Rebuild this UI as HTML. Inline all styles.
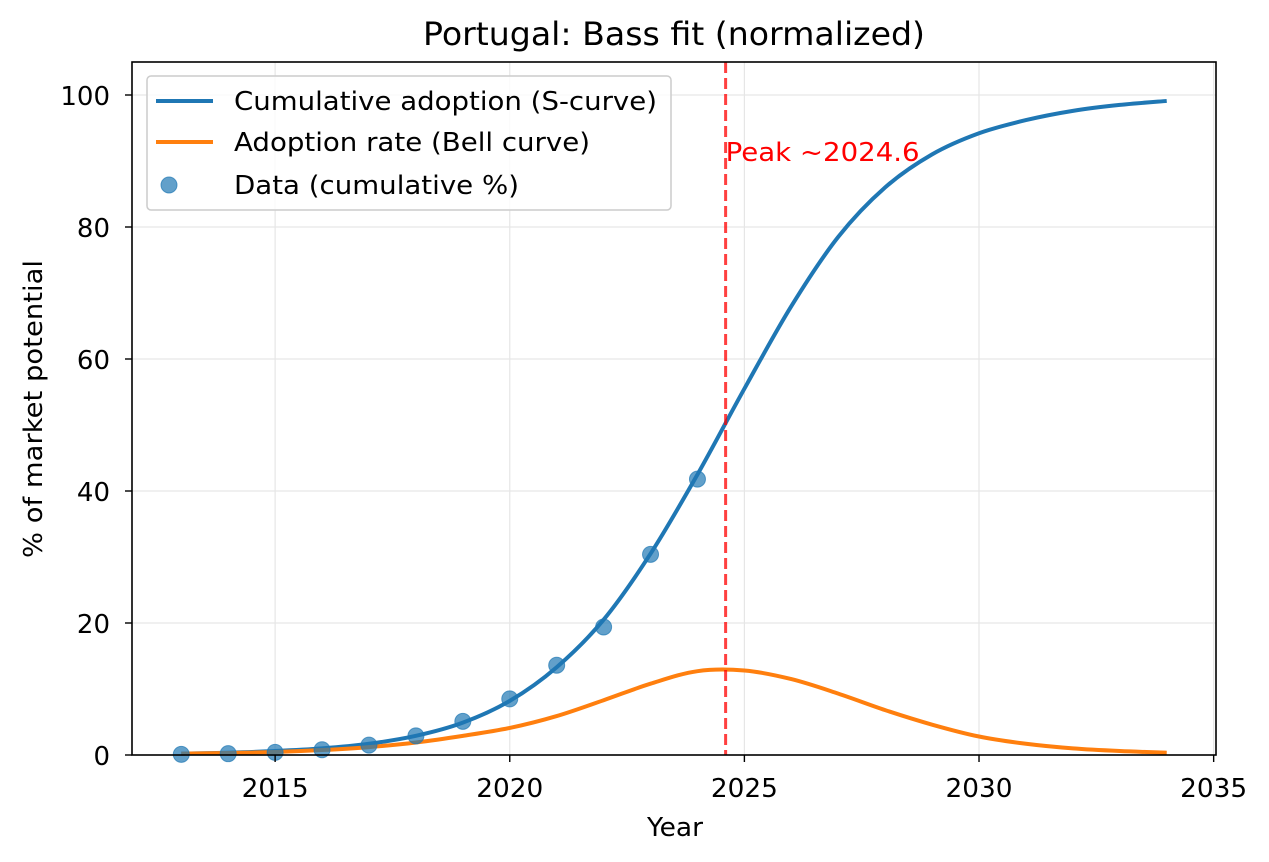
<!DOCTYPE html>
<html><head><meta charset="utf-8"><style>
html,body{margin:0;padding:0;background:#fff;}
svg{display:block;font-family:"DejaVu Sans","Liberation Sans",sans-serif;}
</style></head><body>
<svg id="chart" width="1269" height="862" viewBox="0 0 1269 862">
<rect width="1269" height="862" fill="#fff"/>
<g id="grid"></g>
<g id="series"></g>
<rect x="132" y="62" width="1084" height="693" fill="none" stroke="#000" stroke-width="1.6"/>
<g id="axes"></g>
<text x="674" y="45" text-anchor="middle" font-size="24" textLength="502" lengthAdjust="spacingAndGlyphs" style="font-size:32px">Portugal: Bass fit (normalized)</text>
<text x="675" y="836" text-anchor="middle" style="font-size:26px" textLength="56" lengthAdjust="spacingAndGlyphs">Year</text>
<text transform="translate(42,409) rotate(-90)" text-anchor="middle" style="font-size:26px" textLength="298" lengthAdjust="spacingAndGlyphs">% of market potential</text>
<g>
<rect x="147" y="76" width="524" height="134" rx="4" fill="#fff" fill-opacity="0.8" stroke="#ccc" stroke-width="1.5"/>
<line x1="156" y1="101" x2="213" y2="101" stroke="#1f77b4" stroke-width="4"/>
<text x="234" y="110" style="font-size:26px" textLength="423" lengthAdjust="spacingAndGlyphs">Cumulative adoption (S-curve)</text>
<line x1="156" y1="142" x2="213" y2="142" stroke="#ff7f0e" stroke-width="4"/>
<text x="234" y="151" style="font-size:26px" textLength="356" lengthAdjust="spacingAndGlyphs">Adoption rate (Bell curve)</text>
<circle cx="169" cy="185" r="8" fill="#1f77b4" fill-opacity="0.7" stroke="#1f77b4" stroke-opacity="0.7"/>
<text x="234" y="194" style="font-size:26px" textLength="285" lengthAdjust="spacingAndGlyphs">Data (cumulative %)</text>
</g>
</svg>
<script>
const years=[2013,2014,2015,2016,2017,2018,2019,2020,2021,2022,2023,2024,2025,2026,2027,2028,2029,2030,2031,2032,2033,2034];
const cumulativeFit=[0.2,0.35,0.6,1.0,1.7,2.9,4.9,8.2,13.3,20.5,30.5,42.5,55.5,68,78.5,86,91,94.2,96.2,97.6,98.5,99.1];
const rateFit=[0.2,0.3,0.45,0.75,1.2,1.9,2.9,4.1,5.9,8.3,10.8,12.7,12.8,11.5,9.3,6.8,4.6,2.8,1.7,1.0,0.6,0.35];
const dataYears=[2013,2014,2015,2016,2017,2018,2019,2020,2021,2022,2023,2024];
const dataValues=[0.1,0.2,0.4,0.8,1.5,2.9,5.1,8.5,13.6,19.4,30.4,41.8];
const peakYear=2024.6;
const xTicks=[2015,2020,2025,2030,2035];
const yTicks=[0,20,40,60,80,100];
const NS="http://www.w3.org/2000/svg";
const X0=2011.95,X1=2035.05,Y0=0,Y1=105,L=132,R=1216,T=62,B=755;
const sx=v=>L+(v-X0)/(X1-X0)*(R-L);
const sy=v=>B-(v-Y0)/(Y1-Y0)*(B-T);
function mk(tag,attrs,parent){const e=document.createElementNS(NS,tag);for(const k in attrs)e.setAttribute(k,attrs[k]);parent.appendChild(e);return e;}
const grid=document.getElementById('grid'),axes=document.getElementById('axes'),series=document.getElementById('series');
xTicks.forEach(t=>{
 const g=mk('line',{x1:sx(t),x2:sx(t),y1:T,y2:B,stroke:'#e6e6e6','stroke-width':1.2},grid);
 
 
 const tk=mk('line',{x1:sx(t),x2:sx(t),y1:B,y2:B+7,stroke:'#000','stroke-width':1.4},axes);
 
 
 const tx=mk('text',{x:sx(t),y:B+42,'text-anchor':'middle',style:'font-size:26px',textLength:67,lengthAdjust:'spacingAndGlyphs'},axes);
 tx.textContent=t;
 
 
});
yTicks.forEach(t=>{
 const g=mk('line',{x1:L,x2:R,y1:sy(t),y2:sy(t),stroke:'#e6e6e6','stroke-width':1.2},grid);
 
 
 const tk=mk('line',{x1:L-7,x2:L,y1:sy(t),y2:sy(t),stroke:'#000','stroke-width':1.4},axes);
 
 
 const tx=mk('text',{x:L-22,y:sy(t)+10,'text-anchor':'end',style:'font-size:26px'},axes);
 tx.textContent=t;
 
 
});
function smoothPath(xs,ys){
 const p=xs.map((x,i)=>[sx(x),sy(ys[i])]);
 let d='M'+p[0][0]+','+p[0][1];
 for(let i=0;i<p.length-1;i++){
  const p0=p[Math.max(0,i-1)],p1=p[i],p2=p[i+1],p3=p[Math.min(p.length-1,i+2)];
  const c1=[p1[0]+(p2[0]-p0[0])/6,p1[1]+(p2[1]-p0[1])/6];
  const c2=[p2[0]-(p3[0]-p1[0])/6,p2[1]-(p3[1]-p1[1])/6];
  d+=' C'+c1[0]+','+c1[1]+' '+c2[0]+','+c2[1]+' '+p2[0]+','+p2[1];
 }
 return d;
}
const cum=mk('path',{d:smoothPath(years,cumulativeFit),fill:'none',stroke:'#1f77b4','stroke-width':4},series);


const rate=mk('path',{d:smoothPath(years,rateFit),fill:'none',stroke:'#ff7f0e','stroke-width':4},series);


dataYears.forEach((y,i)=>{
 const c=mk('circle',{cx:sx(y),cy:sy(dataValues[i]),r:8,fill:'#1f77b4','fill-opacity':0.7,stroke:'#1f77b4','stroke-opacity':0.7},series);
 
 
});
const pk=mk('line',{x1:sx(peakYear),x2:sx(peakYear),y1:T,y2:B,stroke:'#ff0000','stroke-opacity':0.75,'stroke-width':3,'stroke-dasharray':'11,5'},series);


const pt=mk('text',{x:sx(peakYear),y:161,style:'font-size:26px',fill:'#ff0000',textLength:194,lengthAdjust:'spacingAndGlyphs'},series);
pt.textContent='Peak ~'+peakYear.toFixed(1);


</script>
</body></html>
